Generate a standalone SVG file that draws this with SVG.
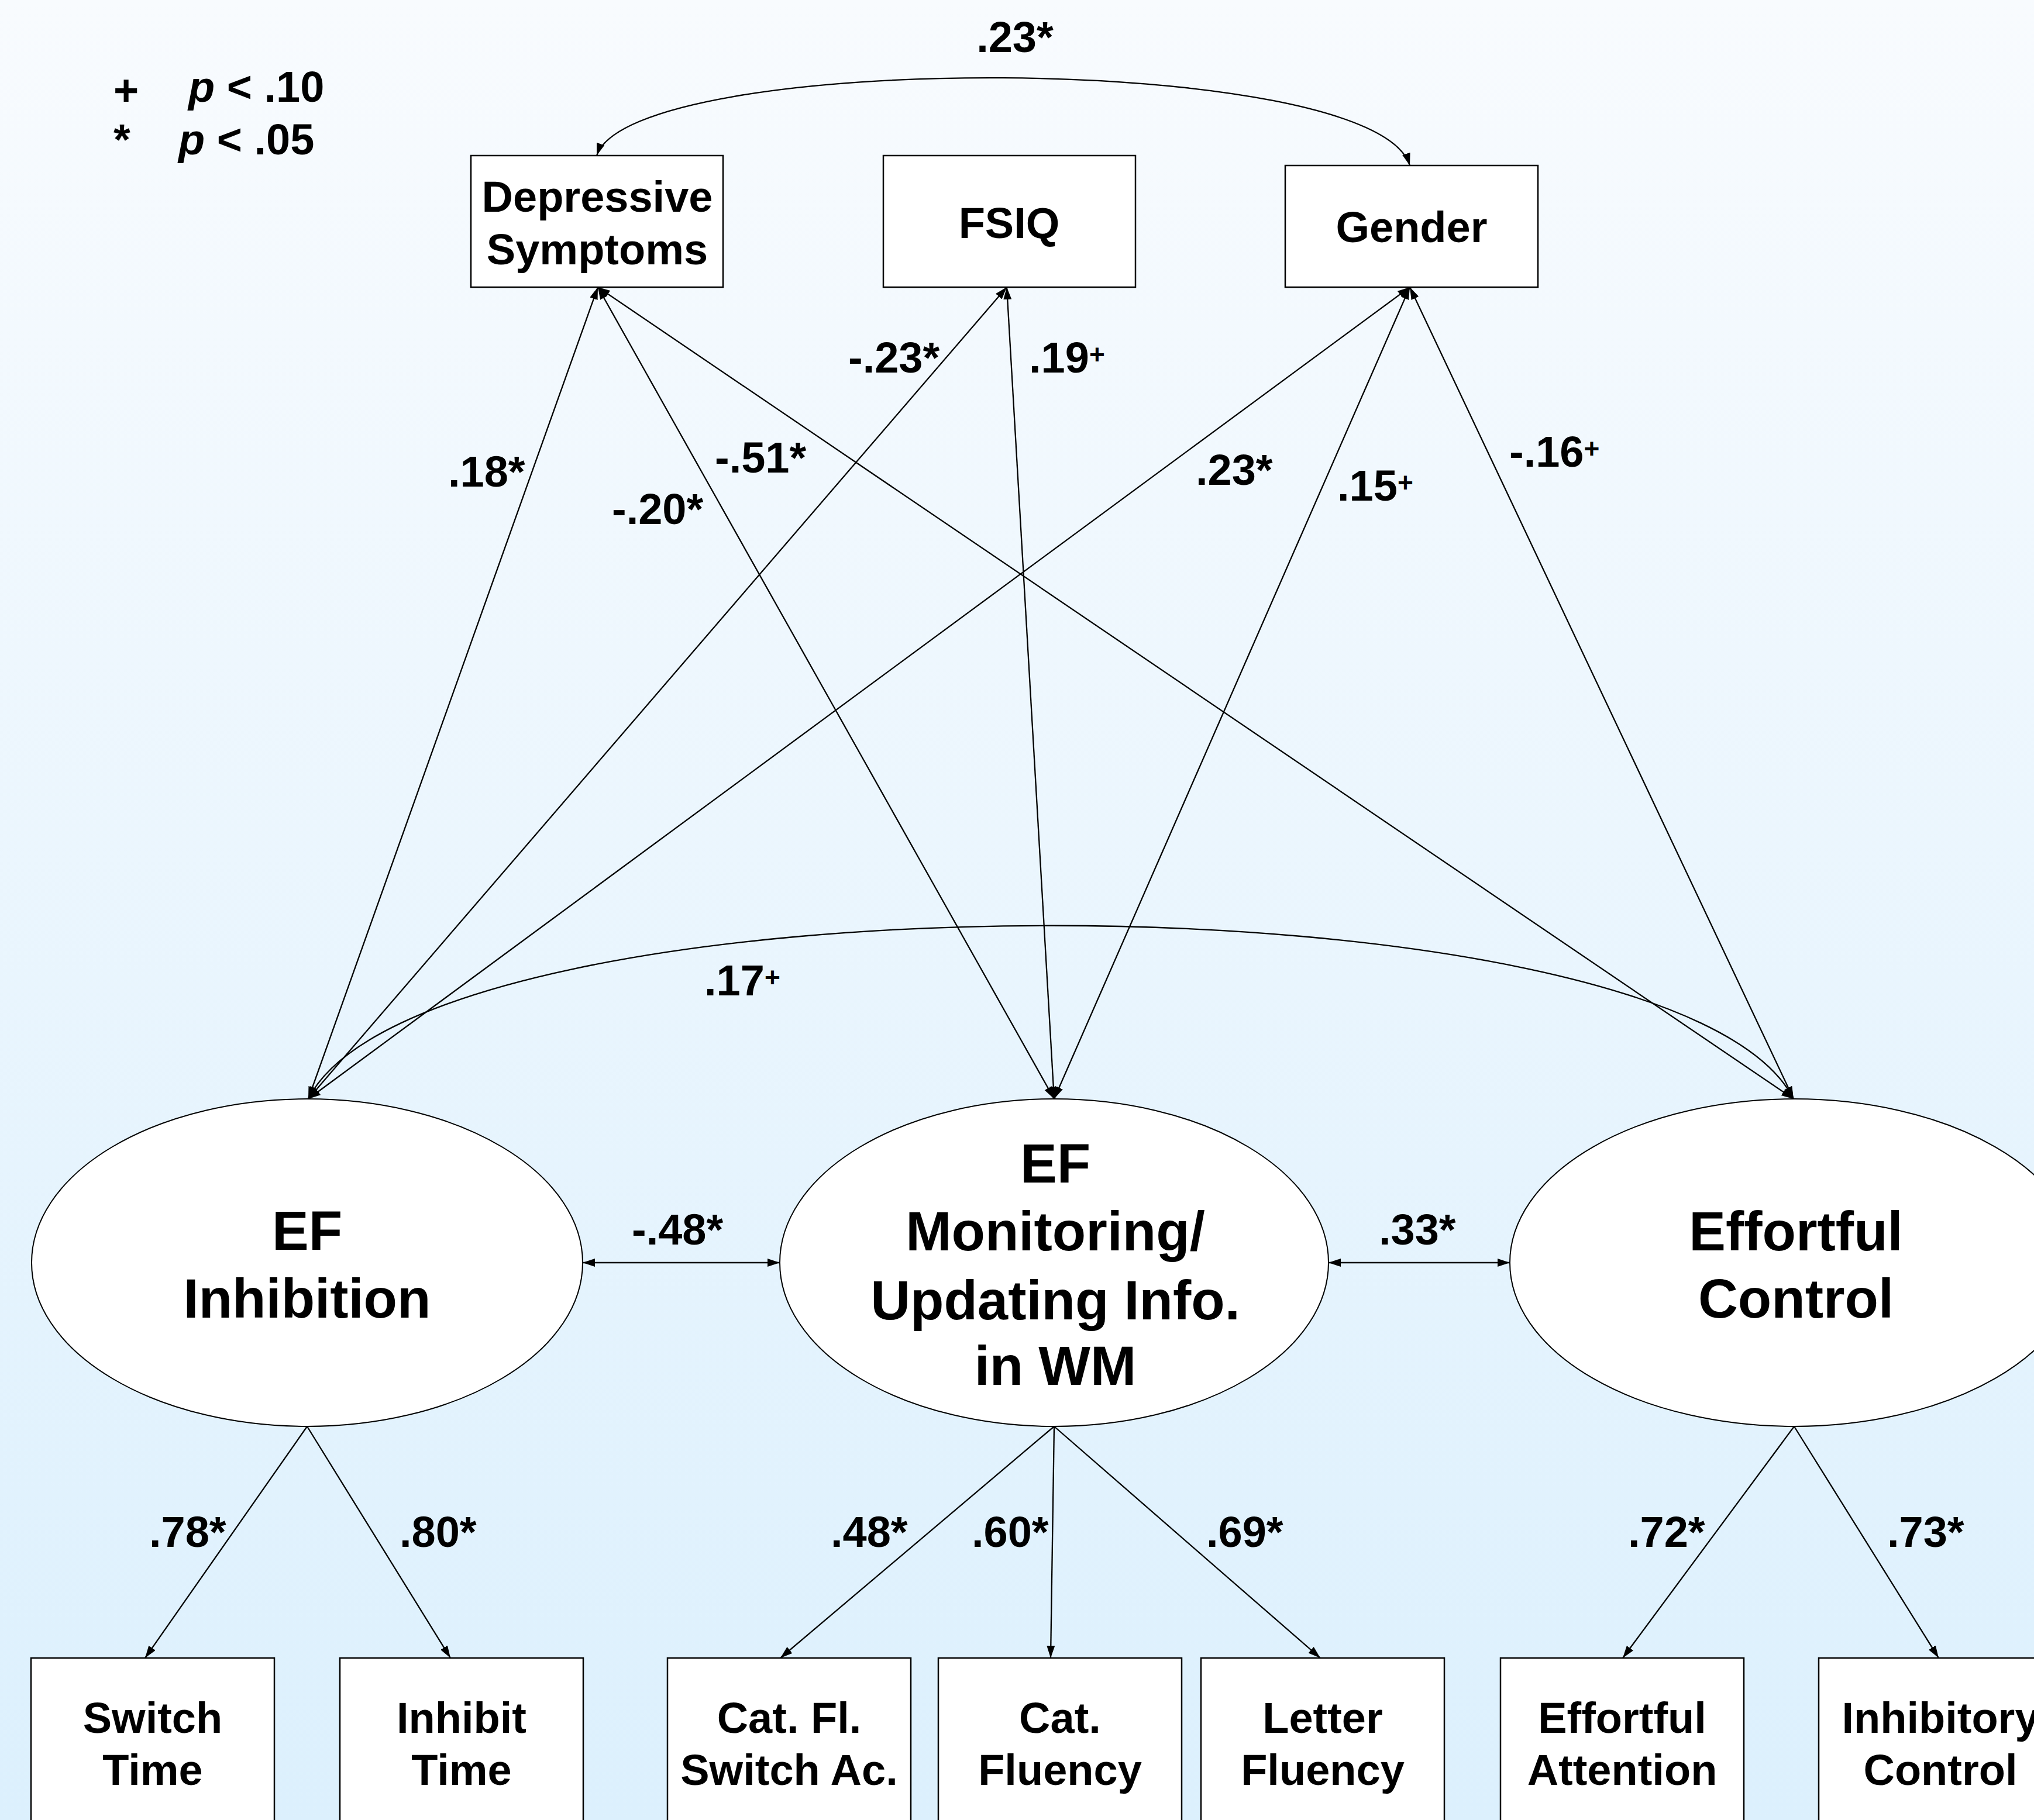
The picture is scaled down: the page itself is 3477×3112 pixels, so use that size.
<svg xmlns="http://www.w3.org/2000/svg" width="3477" height="3112" viewBox="0 0 3477 3112">
<defs>
<linearGradient id="bg" x1="0" y1="0" x2="0" y2="1">
<stop offset="0" stop-color="#f8fbfe"/>
<stop offset="1" stop-color="#dcf0fd"/>
</linearGradient>
<marker id="ah" markerUnits="userSpaceOnUse" markerWidth="22" markerHeight="16" refX="21" refY="7" orient="auto-start-reverse">
<path d="M0,0 L21,7 L0,14 Z" fill="#000"/>
</marker>
<style>
text{font-family:"Liberation Sans",Arial,sans-serif;font-weight:bold;fill:#000}
.n{font-size:74px;text-anchor:middle}
.l{font-size:94px;text-anchor:middle}
.c{font-size:74px}
.box{fill:#fff;stroke:#000;stroke-width:2.5}
.ell{fill:#fff;stroke:#000;stroke-width:2}
.e{fill:none;stroke:#000;stroke-width:2.3}
.d{marker-start:url(#ah);marker-end:url(#ah)}
.s{marker-end:url(#ah)}
.sup{font-size:46px}
</style>
</defs>
<rect width="3477" height="3112" fill="url(#bg)"/>

<g id="legend">
<text class="c" x="194" y="180">+</text>
<text class="c" x="322" y="174"><tspan font-style="italic">p</tspan> &lt; .10</text>
<text class="c" x="194" y="264">*</text>
<text class="c" x="305" y="264"><tspan font-style="italic">p</tspan> &lt; .05</text>
</g>

<g id="depressive">
<rect class="box" x="805" y="266" width="431" height="225"/>
<text class="n" x="1021" y="362">Depressive</text>
<text class="n" x="1021" y="452">Symptoms</text>
</g>
<g id="fsiq">
<rect class="box" x="1510" y="266" width="431" height="225"/>
<text class="n" x="1725" y="407">FSIQ</text>
</g>
<g id="gender">
<rect class="box" x="2197" y="283" width="432" height="208"/>
<text class="n" x="2413" y="414">Gender</text>
</g>

<g id="ef-inhibition">
<ellipse class="ell" cx="525" cy="2159" rx="471" ry="280"/>
<text class="l" x="525" y="2137">EF</text>
<text class="l" x="525" y="2253">Inhibition</text>
</g>
<g id="ef-monitoring">
<ellipse class="ell" cx="1802" cy="2159" rx="469" ry="280"/>
<text class="l" x="1804" y="2022">EF</text>
<text class="l" x="1804" y="2138">Monitoring/</text>
<text class="l" x="1804" y="2256">Updating Info.</text>
<text class="l" x="1804" y="2368">in WM</text>
</g>
<g id="effortful-control">
<ellipse class="ell" cx="3067" cy="2159" rx="486" ry="280"/>
<text class="l" x="3070" y="2138">Effortful</text>
<text class="l" x="3070" y="2253">Control</text>
</g>

<g id="switch-time">
<rect class="box" x="53" y="2835" width="416" height="300"/>
<text class="n" x="261" y="2963">Switch</text>
<text class="n" x="261" y="3052">Time</text>
</g>
<g id="inhibit-time">
<rect class="box" x="581" y="2835" width="416" height="300"/>
<text class="n" x="789" y="2963">Inhibit</text>
<text class="n" x="789" y="3052">Time</text>
</g>
<g id="cat-fl-switch">
<rect class="box" x="1141" y="2835" width="416" height="300"/>
<text class="n" x="1349" y="2963">Cat. Fl.</text>
<text class="n" x="1349" y="3052">Switch Ac.</text>
</g>
<g id="cat-fluency">
<rect class="box" x="1604" y="2835" width="416" height="300"/>
<text class="n" x="1812" y="2963">Cat.</text>
<text class="n" x="1812" y="3052">Fluency</text>
</g>
<g id="letter-fluency">
<rect class="box" x="2053" y="2835" width="416" height="300"/>
<text class="n" x="2261" y="2963">Letter</text>
<text class="n" x="2261" y="3052">Fluency</text>
</g>
<g id="effortful-attention">
<rect class="box" x="2565" y="2835" width="416" height="300"/>
<text class="n" x="2773" y="2963">Effortful</text>
<text class="n" x="2773" y="3052">Attention</text>
</g>
<g id="inhibitory-control">
<rect class="box" x="3109" y="2835" width="416" height="300"/>
<text class="n" x="3317" y="2963">Inhibitory</text>
<text class="n" x="3317" y="3052">Control</text>
</g>

<g id="connectors">
<path class="e d" d="M1020,266 C1080,86 2350,86 2410,283"/>
<path class="e d" d="M527,1879 C727,1484 2866,1484 3066,1879"/>
<line class="e d" x1="1022" y1="491" x2="527" y2="1879"/>
<line class="e d" x1="1022" y1="491" x2="1802" y2="1879"/>
<line class="e d" x1="1022" y1="491" x2="3066" y2="1879"/>
<line class="e d" x1="1721" y1="491" x2="527" y2="1879"/>
<line class="e d" x1="1721" y1="491" x2="1802" y2="1879"/>
<line class="e d" x1="2410" y1="491" x2="527" y2="1879"/>
<line class="e d" x1="2410" y1="491" x2="1802" y2="1879"/>
<line class="e d" x1="2410" y1="491" x2="3066" y2="1879"/>
<line class="e d" x1="996" y1="2159" x2="1333" y2="2159"/>
<line class="e d" x1="2271" y1="2159" x2="2581" y2="2159"/>
<line class="e s" x1="525" y1="2439" x2="248" y2="2835"/>
<line class="e s" x1="525" y1="2439" x2="770" y2="2835"/>
<line class="e s" x1="1802" y1="2439" x2="1334" y2="2835"/>
<line class="e s" x1="1802" y1="2439" x2="1796" y2="2835"/>
<line class="e s" x1="1802" y1="2439" x2="2257" y2="2835"/>
<line class="e s" x1="3067" y1="2439" x2="2774" y2="2835"/>
<line class="e s" x1="3067" y1="2439" x2="3314" y2="2835"/>

<text class="c" x="1735" y="89" text-anchor="middle">.23*</text>
<text class="c" x="766" y="832">.18*</text>
<text class="c" x="1046" y="896">-.20*</text>
<text class="c" x="1222" y="808">-.51*</text>
<text class="c" x="1450" y="637">-.23*</text>
<text class="c" x="1759" y="637">.19<tspan class="sup" dy="-15">+</tspan></text>
<text class="c" x="2044" y="829">.23*</text>
<text class="c" x="2286" y="856">.15<tspan class="sup" dy="-15">+</tspan></text>
<text class="c" x="2580" y="798">-.16<tspan class="sup" dy="-15">+</tspan></text>
<text class="c" x="1204" y="1702">.17<tspan class="sup" dy="-15">+</tspan></text>
<text class="c" x="1080" y="2128">-.48*</text>
<text class="c" x="2357" y="2128">.33*</text>
<text class="c" x="255" y="2645">.78*</text>
<text class="c" x="683" y="2645">.80*</text>
<text class="c" x="1420" y="2645">.48*</text>
<text class="c" x="1661" y="2645">.60*</text>
<text class="c" x="2062" y="2645">.69*</text>
<text class="c" x="2783" y="2645">.72*</text>
<text class="c" x="3226" y="2645">.73*</text>
</g>
</svg>
